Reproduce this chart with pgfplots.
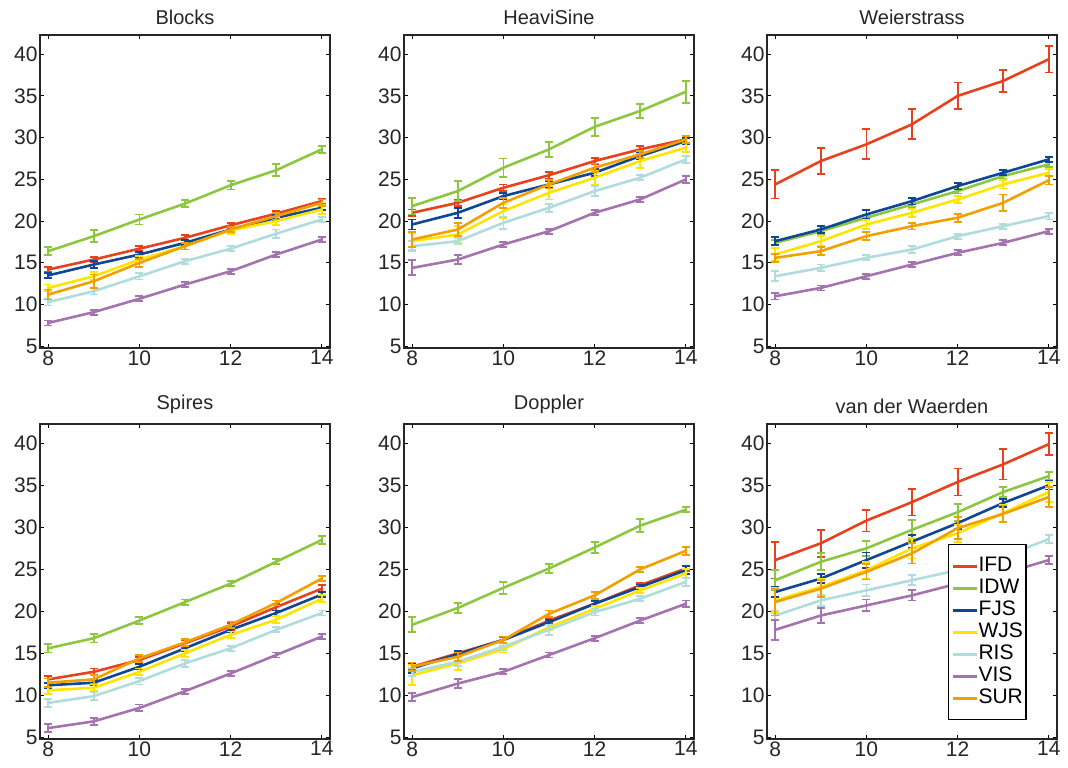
\documentclass[border=0pt]{standalone}
\usepackage{fontspec}
\setmainfont{Liberation Sans}
\usepackage{pgfplots}
\usepackage{pgfplotstable}
\pgfplotsset{compat=1.18}

\definecolor{cIFD}{RGB}{232,65,30}
\definecolor{cIDW}{RGB}{141,198,63}
\definecolor{cFJS}{RGB}{16,70,150}
\definecolor{cWJS}{RGB}{255,228,0}
\definecolor{cRIS}{RGB}{176,220,222}
\definecolor{cVIS}{RGB}{165,115,175}
\definecolor{cSUR}{RGB}{242,160,0}

\pgfplotstableread{
x  IFD  eIFD IDW  eIDW FJS  eFJS WJS  eWJS RIS  eRIS VIS  eVIS SUR  eSUR
8  14.2 0.3  16.4 0.5  13.5 0.3  12.0 0.4  10.3 0.4  7.8  0.3  11.2 0.6
9  15.4 0.3  18.2 0.7  14.8 0.4  13.4 0.5  11.6 0.4  9.1  0.3  12.8 0.8
10 16.7 0.3  20.2 0.6  16.0 0.3  15.4 0.4  13.4 0.4  10.7 0.3  15.0 0.5
11 18.0 0.3  22.1 0.4  17.4 0.3  17.0 0.4  15.2 0.3  12.4 0.3  17.0 0.4
12 19.5 0.3  24.3 0.5  19.0 0.3  18.9 0.4  16.7 0.3  14.0 0.3  19.0 0.3
13 20.9 0.3  26.1 0.7  20.4 0.3  20.0 0.5  18.5 0.5  16.0 0.3  20.6 0.4
14 22.4 0.3  28.6 0.4  21.6 0.3  21.4 0.5  20.2 0.3  17.8 0.3  22.2 0.4
}\tblA
\pgfplotstableread{
x  IFD  eIFD IDW  eIDW FJS  eFJS WJS  eWJS RIS  eRIS VIS  eVIS SUR  eSUR
8  21.0 0.4  21.8 1.0  19.6 0.6  17.6 1.0  17.0 0.6  14.4 0.9  17.8 0.9
9  22.2 0.4  23.6 1.2  21.0 0.6  18.4 1.0  17.6 0.4  15.4 0.5  19.0 0.8
10 24.0 0.4  26.4 1.1  23.0 0.4  21.2 0.8  19.8 0.7  17.2 0.3  22.2 0.6
11 25.5 0.4  28.6 0.9  24.4 0.4  23.4 0.8  21.6 0.5  18.8 0.3  24.4 0.5
12 27.2 0.4  31.3 1.1  25.8 0.4  25.2 0.8  23.6 0.6  21.0 0.3  26.4 0.5
13 28.6 0.4  33.2 0.8  27.8 0.4  27.2 0.8  25.2 0.3  22.6 0.3  28.0 0.4
14 29.8 0.4  35.5 1.3  29.6 0.4  28.8 0.5  27.4 0.4  25.0 0.4  29.8 0.4
}\tblB
\pgfplotstableread{
x  IFD  eIFD IDW  eIDW FJS  eFJS WJS  eWJS RIS  eRIS VIS  eVIS SUR  eSUR
8  24.4 1.7  17.4 0.3  17.6 0.5  16.0 0.8  13.4 0.6  11.0 0.4  15.6 0.5
9  27.2 1.6  18.8 0.3  19.0 0.4  17.6 0.6  14.4 0.4  12.0 0.3  16.4 0.5
10 29.2 1.8  20.4 0.3  20.8 0.5  19.6 0.5  15.6 0.3  13.4 0.3  18.2 0.5
11 31.6 1.8  22.0 0.3  22.4 0.4  21.0 0.5  16.6 0.4  14.8 0.3  19.4 0.4
12 35.0 1.6  23.6 0.3  24.2 0.4  22.6 0.4  18.2 0.3  16.2 0.3  20.4 0.5
13 36.8 1.3  25.4 0.3  25.8 0.3  24.4 0.5  19.4 0.3  17.4 0.3  22.2 1.0
14 39.4 1.6  26.8 0.3  27.4 0.3  25.8 0.4  20.6 0.4  18.8 0.3  24.9 0.5
}\tblC
\pgfplotstableread{
x  IFD  eIFD IDW  eIDW FJS  eFJS WJS  eWJS RIS  eRIS VIS  eVIS SUR  eSUR
8  11.9 0.4  15.6 0.5  11.2 0.3  10.6 0.4  9.1  0.5  6.1  0.5  11.5 0.5
9  12.8 0.4  16.8 0.5  11.5 0.3  10.9 0.4  9.9  0.5  6.9  0.4  11.9 0.5
10 14.2 0.4  18.9 0.4  13.4 0.3  12.8 0.4  11.7 0.4  8.5  0.4  14.4 0.4
11 16.2 0.4  21.1 0.3  15.6 0.3  15.0 0.4  13.8 0.4  10.5 0.3  16.3 0.4
12 18.2 0.4  23.3 0.3  17.8 0.3  17.2 0.4  15.6 0.3  12.6 0.3  18.4 0.4
13 20.5 0.4  25.9 0.3  19.8 0.3  19.0 0.4  17.8 0.3  14.8 0.3  21.0 0.3
14 22.7 0.4  28.5 0.5  22.0 0.3  21.5 0.4  19.8 0.3  17.0 0.3  23.9 0.3
}\tblD
\pgfplotstableread{
x  IFD  eIFD IDW  eIDW FJS  eFJS WJS  eWJS RIS  eRIS VIS  eVIS SUR  eSUR
8  13.4 0.3  18.4 0.9  13.2 0.5  12.4 1.2  12.8 0.5  9.8  0.5  13.4 0.5
9  15.0 0.3  20.4 0.6  14.9 0.4  13.8 0.8  14.0 0.5  11.4 0.5  14.6 0.5
10 16.6 0.3  22.8 0.7  16.6 0.4  15.5 0.4  15.8 0.4  12.8 0.3  16.6 0.4
11 18.9 0.3  25.1 0.5  18.7 0.3  18.1 0.3  17.8 0.6  14.8 0.3  19.7 0.4
12 20.9 0.3  27.6 0.7  20.9 0.3  20.3 0.3  19.9 0.4  16.8 0.3  21.9 0.4
13 23.1 0.3  30.2 0.8  22.9 0.3  22.5 0.3  21.5 0.3  18.9 0.3  25.0 0.3
14 25.1 0.3  32.1 0.3  24.9 0.5  24.5 0.5  23.5 0.5  20.9 0.4  27.2 0.5
}\tblE
\pgfplotstableread{
x  IFD  eIFD IDW  eIDW FJS  eFJS WJS  eWJS RIS  eRIS VIS  eVIS SUR  eSUR
8  26.1 2.2  23.7 1.2  22.3 0.6  21.3 1.5  19.5 0.5  17.8 1.2  21.1 1.6
9  28.1 1.6  25.9 1.0  23.9 0.5  22.9 1.0  21.3 0.7  19.5 0.9  22.7 1.0
10 30.8 1.3  27.5 0.9  26.1 0.9  24.9 1.0  22.5 0.7  20.7 0.7  24.7 0.9
11 33.0 1.6  29.7 1.2  28.3 0.8  27.5 1.2  23.7 0.6  21.9 0.6  26.9 1.2
12 35.4 1.6  31.8 1.0  30.5 0.7  29.3 1.0  24.9 0.5  23.3 0.5  29.9 1.3
13 37.5 1.8  34.2 0.6  32.9 0.5  31.7 1.0  26.5 0.5  24.5 0.5  31.6 1.0
14 39.9 1.3  36.1 0.5  35.0 0.5  34.2 1.2  28.6 0.5  26.1 0.5  33.6 1.2
}\tblF

\pgfplotsset{
  panel/.style={
    scale only axis, width=290pt,
    xmin=7.82, xmax=14.18, ymin=4.8, ymax=42.3,
    xtick={8,10,12,14}, ytick={5,10,...,40},
    tick align=inside, major tick length=4pt,
    every tick/.style={black, line width=1pt},
    axis line style={line width=1.3pt, black!85},
    /pgf/number format/assume math mode=true,
    tick label style={font=\fontsize{21}{21}\selectfont, text=black!85},
    xticklabel style={yshift=1pt},
    yticklabel style={xshift=1pt},
    title style={at={(0.5,1)}, anchor=south, yshift=1pt, font=\fontsize{20}{20}\selectfont, text=black!85},
    every axis plot/.append style={line width=2.6pt, no markers,
      error bars/y dir=both, error bars/y explicit,
      error bars/error bar style={line width=1.8pt},
      error bars/error mark options={rotate=90, mark size=4pt, line width=1.8pt}},
  },
}
\newcommand{\panelplots}[1]{%
  \addplot[cIFD] table[x=x, y=IFD, y error=eIFD] {#1};
  \addplot[cIDW] table[x=x, y=IDW, y error=eIDW] {#1};
  \addplot[cFJS] table[x=x, y=FJS, y error=eFJS] {#1};
  \addplot[cWJS] table[x=x, y=WJS, y error=eWJS] {#1};
  \addplot[cRIS] table[x=x, y=RIS, y error=eRIS] {#1};
  \addplot[cVIS] table[x=x, y=VIS, y error=eVIS] {#1};
  \addplot[cSUR] table[x=x, y=SUR, y error=eSUR] {#1};
}

\begin{document}
\begin{tikzpicture}
\useasboundingbox (0pt,-768pt) rectangle (1068pt,0pt);
\begin{axis}[panel, height=313pt, anchor=north west, at={(40pt,-35pt)}, title={Blocks}]
\panelplots{\tblA}
\end{axis}
\begin{axis}[panel, height=313pt, anchor=north west, at={(404pt,-35pt)}, title={HeaviSine}]
\panelplots{\tblB}
\end{axis}
\begin{axis}[panel, height=313pt, anchor=north west, at={(767pt,-35pt)}, title={Weierstrass}]
\panelplots{\tblC}
\end{axis}
\begin{axis}[panel, height=315pt, anchor=north west, at={(40pt,-424pt)}, title={Spires}]
\panelplots{\tblD}
\end{axis}
\begin{axis}[panel, height=315pt, anchor=north west, at={(404pt,-424pt)}, title={Doppler}]
\panelplots{\tblE}
\end{axis}
\begin{axis}[panel, height=315pt, anchor=north west, at={(767pt,-424pt)}, title={van der Waerden},
  legend style={at={(0.624,0.619)}, anchor=north west, draw=black, line width=1.2pt, fill=white,
    font=\fontsize{21}{21}\selectfont, inner xsep=3pt, inner ysep=12pt, row sep=3pt,
    nodes={inner sep=0pt, text height=15pt, text depth=4pt}},
  legend image code/.code={\draw[line width=3pt] (0pt,0pt) -- (24pt,0pt);},
  legend cell align=left]
\panelplots{\tblF}
\legend{IFD,IDW,FJS,WJS,RIS,VIS,SUR}
\end{axis}
\end{tikzpicture}
\end{document}
